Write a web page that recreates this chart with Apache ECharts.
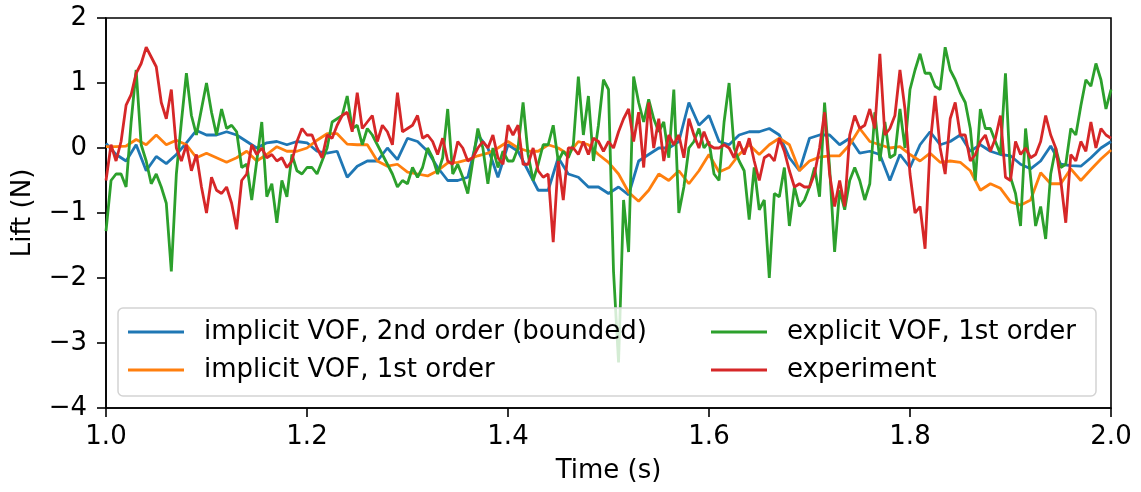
<!DOCTYPE html>
<html>
<head>
<meta charset="utf-8">
<script src="https://cdn.jsdelivr.net/npm/echarts@6/dist/echarts.min.js"></script>
<style>
  html, body { margin: 0; padding: 0; background: #fff; }
  #lift_chart { width: 1141px; height: 492px; }
</style>
</head>
<body>
<div id="lift_chart"></div>
<script>
// lift force vs time
const tStart = 1.0
const stepSmooth = 0.01   // blue / orange sampling
const stepNoisy = 0.005   // green / red sampling

const seriesNames = [
  'implicit VOF, 2nd order (bounded)',
  'implicit VOF, 1st order',
  'explicit VOF, 1st order',
  'experiment',
]

const implicit2nd = [
  0.07, -0.1, -0.2, 0.05, -0.35, -0.13, -0.24, -0.1, 0.08, 0.27, 0.2,
  0.2, 0.25, 0.2, 0.1, 0.0, 0.08, 0.1, 0.05, 0.1, 0.08,
  -0.05, -0.08, -0.05, -0.45, -0.28, -0.2, -0.2, 0.0, -0.18, 0.15,
  0.1, -0.05, -0.3, -0.5, -0.5, -0.45, 0.2, 0.0, -0.45, 0.05,
  -0.05, -0.35, -0.65, -0.65, -0.15, -0.4, -0.45, -0.6, -0.6, -0.7,
  -0.6, -0.72, -0.2, -0.1, 0.0, 0.0, 0.1, 0.7, 0.35, 0.5,
  0.1, 0.05, 0.2, 0.25, 0.25, 0.3, 0.2, -0.15, -0.35, 0.15,
  0.2, 0.2, 0.05, 0.15, -0.08, -0.05, -0.1, -0.5, -0.1, -0.3,
  0.05, 0.25, 0.05, 0.1, 0.2, -0.05, 0.05, -0.05, -0.1, -0.12,
  -0.25, -0.32, -0.2, 0.03, -0.25, -0.27, -0.28, -0.15, 0.0, 0.1,
]

const implicit1st = [
  0.02, 0.02, 0.03, 0.13, 0.05, 0.2, 0.05, 0.12, 0.05, -0.15, -0.08,
  -0.15, -0.22, -0.15, -0.05, -0.2, -0.1, 0.02, -0.05, -0.05, 0.0,
  0.12, 0.22, 0.22, 0.06, 0.05, 0.05, -0.2, -0.28, -0.25, -0.37,
  -0.4, -0.43, -0.35, -0.23, -0.22, -0.18, -0.12, -0.08, 0.0, 0.1,
  0.0, -0.05, -0.05, 0.05, 0.0, -0.1, 0.1, 0.05, -0.1, -0.22,
  -0.4, -0.68, -0.82, -0.65, -0.4, -0.5, -0.35, -0.55, -0.35, -0.1,
  -0.37, -0.3, -0.1, 0.05, -0.1, 0.05, 0.15, 0.05, -0.35, -0.2,
  -0.14, -0.12, -0.12, 0.05, 0.3, 0.1, 0.05, 0.0, 0.02, -0.1,
  -0.2, -0.08, -0.22, -0.2, -0.22, -0.35, -0.65, -0.55, -0.62, -0.83,
  -0.88, -0.8, -0.38, -0.55, -0.55, -0.32, -0.5, -0.33, -0.17, -0.03,
]

const explicit1st = [
  -1.28, -0.5, -0.4, -0.4, -0.6, 0.4, 1.2, 0.05, -0.2, -0.55, -0.4, -0.6, -0.85, -1.9, -0.4, 0.4, 1.15, 0.5, 0.2, 0.6, 1.0,
  0.55, 0.2, 0.6, 0.3, 0.35, 0.25, -0.3, -0.25, -0.8, -0.2, 0.4, -0.75, -0.55, -1.15, -0.5, -0.75, -0.1, -0.35, -0.4, -0.3,
  -0.3, -0.4, -0.2, 0.0, 0.4, 0.45, 0.5, 0.8, 0.3, 0.35, 0.05, 0.3, 0.2, 0.05, -0.1, -0.25, -0.4, -0.6, -0.5, -0.55,
  -0.3, -0.45, -0.3, 0.0, -0.15, -0.4, -0.15, 0.6, -0.4, -0.25, -0.45, -0.7, -0.2, 0.3, 0.0, -0.55, 0.0, -0.3, -0.05, -0.2,
  -0.2, 0.0, 0.7, -0.1, -0.5, -0.25, 0.05, 0.05, 0.35, -0.2, -0.05, -0.15, 0.05, 1.1, 0.2, 0.8, -0.2, 0.35, 1.05, 0.9,
  -1.9, -3.3, -0.8, -1.6, 1.1, 0.7, 0.4, 0.75, 0.45, 0.25, 0.4, -0.15, 0.9, -1.0, -0.6, 0.0, 0.1, 0.3, 0.0, 0.1,
  -0.4, -0.5, 0.4, 1.0, 0.0, -0.2, -0.35, -1.1, -0.3, -0.95, -0.8, -2.0, -0.7, -0.75, -0.3, -1.2, -0.6, -0.9, -0.8, -0.6,
  -0.3, -0.75, 0.7, -0.3, -1.6, -0.65, -0.95, -0.5, -0.3, -0.5, -0.8, -0.55, 0.55, -0.2, 0.4, -0.15, -0.1, 0.6, 0.0, 0.9,
  1.2, 1.45, 1.15, 1.15, 0.95, 0.9, 1.55, 1.2, 1.05, 0.85, 0.7, 0.3, -0.5, 0.6, 0.3, 0.3, 0.1, -0.1, 1.15, -0.45,
  -0.7, -1.2, 0.3, -0.45, -1.2, -0.9, -1.4, -0.4, 0.0, -0.3, -0.25, 0.3, 0.2, 0.65, 1.05, 0.95, 1.3, 1.05, 0.6, 0.9,
]

const experiment = [
  -0.5, 0.05, -0.2, 0.1, 0.66, 0.82, 1.15, 1.3, 1.55, 1.4, 1.25, 0.7, 0.45, 0.9, 0.0, -0.2, 0.05, -0.35, -0.1, -0.6, -1.0,
  -0.45, -0.65, -0.7, -0.6, -0.85, -1.25, -0.5, -0.4, 0.05, -0.1, 0.0, -0.15, -0.1, -0.2, -0.15, -0.3, -0.2, 0.1, 0.3, 0.2,
  0.2, 0.0, -0.15, 0.2, 0.15, 0.35, 0.5, 0.55, 0.25, 0.85, 0.3, 0.4, 0.5, 0.1, 0.35, 0.25, 0.05, 0.85, 0.25, 0.3,
  0.35, 0.5, 0.15, 0.2, 0.1, -0.1, 0.15, -0.2, -0.25, 0.1, 0.0, -0.2, -0.15, 0.0, 0.1, 0.0, 0.2, -0.15, -0.25, 0.35,
  0.2, 0.35, -0.25, -0.25, 0.0, -0.35, -0.45, -0.4, -1.45, -0.2, -0.8, 0.0, 0.0, -0.1, 0.1, -0.1, 0.15, 0.1, -0.05, 0.1,
  0.0, 0.25, 0.45, 0.6, 0.1, 0.55, -0.3, 0.7, 0.0, 0.45, -0.2, 0.2, 0.05, 0.2, -0.15, 0.45, 0.2, 0.0, 0.25, 0.05,
  0.0, 0.0, 0.05, 0.0, -0.15, 0.1, -0.1, 0.15, -0.2, -0.5, -0.15, -0.1, -0.2, 0.15, -0.05, -0.35, -0.6, -0.55, -0.6, -0.6,
  -0.4, 0.0, 0.55, -0.4, -0.9, -0.5, -0.9, 0.2, 0.5, 0.3, 0.35, 0.6, 0.3, 1.45, 0.2, 0.3, 0.5, 1.2, 0.6, -0.4,
  -1.0, -0.9, -1.55, 0.05, 0.8, 0.0, -0.4, 0.45, 0.7, 0.2, 0.2, -0.2, -0.1, 0.1, 0.2, -0.05, 0.15, 0.5, -0.45, -0.5,
  0.1, -0.1, 0.0, -0.15, -0.1, 0.1, 0.5, 0.2, 0.0, -0.5, -1.15, -0.1, -0.2, 0.1, -0.05, 0.4, 0.0, 0.3, 0.2, 0.15,
]

const colors = ['#1f77b4', '#ff7f0e', '#2ca02c', '#d62728']
const fontFamily = 'DejaVu Sans'

// pair each sample with its time stamp
function toPairs(values, step) {
  return values.map((v, i) => [+(tStart + i * step).toFixed(4), v])
}

function tickText(v) {
  return v < 0 ? '\u2212' + Math.abs(v) : String(v)
}

const chartInstance = echarts.init(document.getElementById('lift_chart'))

const legendCommon = {
  orient: 'vertical',
  icon: 'rect',
  itemWidth: 56,
  itemHeight: 3,
  itemGap: 12,
  padding: 0,
  z: 20,
  textStyle: {
    fontFamily: fontFamily,
    fontSize: 26,
    lineHeight: 26,
    color: '#000',
    padding: [0, 0, 0, 15],
  },
}

const option = {
  animation: false,
  color: colors,
  grid: {
    left: 106,
    right: 30,
    top: 18,
    bottom: 84,
    show: true,
    borderColor: '#000',
    borderWidth: 1.6,
  },
  xAxis: {
    type: 'value',
    min: 1.0,
    max: 2.0,
    interval: 0.2,
    name: 'Time (s)',
    nameLocation: 'middle',
    nameGap: 50,
    nameTextStyle: { fontFamily: fontFamily, fontSize: 26, color: '#000' },
    axisLine: { show: true, onZero: false, lineStyle: { color: '#000', width: 1.6 } },
    axisTick: { show: true, inside: false, length: 9, lineStyle: { color: '#000', width: 1.6 } },
    axisLabel: {
      margin: 16,
      fontFamily: fontFamily,
      fontSize: 26,
      color: '#000',
      formatter: (v) => v.toFixed(1),
    },
    splitLine: { show: false },
  },
  yAxis: {
    type: 'value',
    min: -4,
    max: 2,
    interval: 1,
    name: 'Lift (N)',
    nameLocation: 'middle',
    nameGap: 70,
    nameTextStyle: { fontFamily: fontFamily, fontSize: 26, color: '#000' },
    axisLine: { show: true, onZero: false, lineStyle: { color: '#000', width: 1.6 } },
    axisTick: { show: true, inside: false, length: 9, lineStyle: { color: '#000', width: 1.6 } },
    axisLabel: {
      margin: 19,
      fontFamily: fontFamily,
      fontSize: 26,
      color: '#000',
      formatter: tickText,
    },
    splitLine: { show: false },
  },
  graphic: [
    {
      type: 'rect',
      z: 10,
      shape: { x: 118, y: 308, width: 978, height: 88, r: 5 },
      style: { fill: 'rgba(255,255,255,0.8)', stroke: '#d3d3d3', lineWidth: 1.5 },
    },
  ],
  legend: [
    Object.assign({}, legendCommon, { left: 128, top: 319, data: [seriesNames[0], seriesNames[1]] }),
    Object.assign({}, legendCommon, { left: 711, top: 319, data: [seriesNames[2], seriesNames[3]] }),
  ],
  series: [
    { name: seriesNames[0], data: toPairs(implicit2nd, stepSmooth) },
    { name: seriesNames[1], data: toPairs(implicit1st, stepSmooth) },
    { name: seriesNames[2], data: toPairs(explicit1st, stepNoisy) },
    { name: seriesNames[3], data: toPairs(experiment, stepNoisy) },
  ].map((s, i) => ({
    type: 'line',
    name: s.name,
    data: s.data,
    symbol: 'none',
    smooth: false,
    lineStyle: { width: 2.8, color: colors[i] },
    itemStyle: { color: colors[i] },
    z: 2 + i * 0.1,
  })),
}

chartInstance.setOption(option)
</script>
</body>
</html>
